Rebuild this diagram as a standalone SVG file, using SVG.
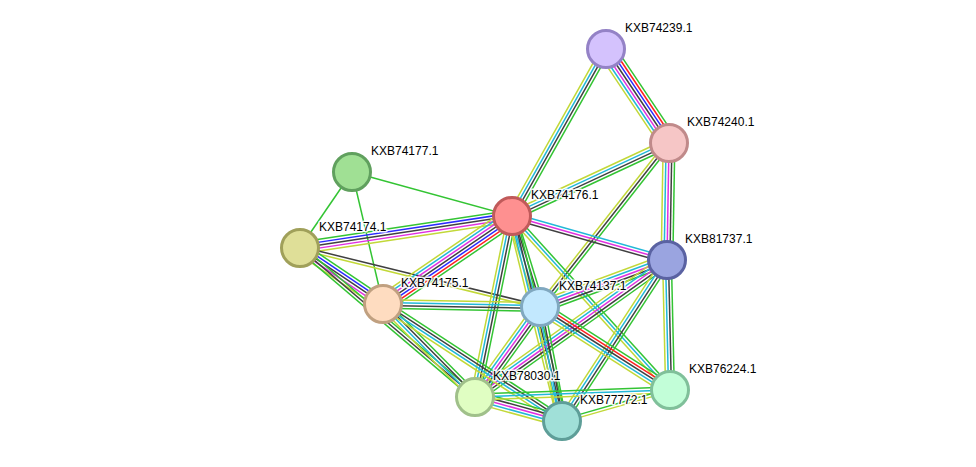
<svg xmlns="http://www.w3.org/2000/svg" width="976" height="467" viewBox="0 0 976 467">
<style>
line{stroke-width:1.5;fill:none;vector-effect:non-scaling-stroke}
.g{stroke:#33c433}.r{stroke:#ff2020}.b{stroke:#2a2aff}.k{stroke:#404040}.m{stroke:#e030e0}.c{stroke:#22b8d8}.y{stroke:#c2d838}
.n circle{stroke-width:3}
text{font-family:"Liberation Sans",Arial,sans-serif;font-size:12px;fill:#000;stroke:#fff;stroke-width:3;stroke-opacity:0.9;paint-order:stroke;stroke-linejoin:round}
</style>
<rect width="976" height="467" fill="#fff"/>
<g id="edges">
<g transform="translate(606 49) rotate(56.17) scale(1 1.12)"><line x2="113.2" y1="-7.8" y2="-7.8" class="g"/><line x2="113.2" y1="-5.2" y2="-5.2" class="r"/><line x2="113.2" y1="-2.6" y2="-2.6" class="b"/><line x2="113.2" class="k"/><line x2="113.2" y1="2.6" y2="2.6" class="m"/><line x2="113.2" y1="5.2" y2="5.2" class="c"/><line x2="113.2" y1="7.8" y2="7.8" class="y"/></g>
<g transform="translate(606 49) rotate(119.37) scale(1 1.12)"><line x2="191.6" y1="-3.9" y2="-3.9" class="g"/><line x2="191.6" y1="-1.3" y2="-1.3" class="k"/><line x2="191.6" y1="1.3" y2="1.3" class="c"/><line x2="191.6" y1="3.9" y2="3.9" class="y"/></g>
<g transform="translate(669 143) rotate(155.06) scale(1 1.12)"><line x2="173.1" y1="-3.9" y2="-3.9" class="g"/><line x2="173.1" y1="-1.3" y2="-1.3" class="k"/><line x2="173.1" y1="1.3" y2="1.3" class="c"/><line x2="173.1" y1="3.9" y2="3.9" class="y"/></g>
<g transform="translate(669 143) rotate(90.98) scale(1 1.12)"><line x2="117" y1="-5.2" y2="-5.2" class="g"/><line x2="117" y1="-2.6" y2="-2.6" class="k"/><line x2="117" class="m"/><line x2="117" y1="2.6" y2="2.6" class="c"/><line x2="117" y1="5.2" y2="5.2" class="y"/></g>
<g transform="translate(669 143) rotate(128.19) scale(1 1.12)"><line x2="208.7" y1="-2.6" y2="-2.6" class="g"/><line x2="208.7" class="k"/><line x2="208.7" y1="2.6" y2="2.6" class="y"/></g>
<g transform="translate(352 172) rotate(15.38)"><line x2="165.9" class="g"/></g>
<g transform="translate(352 172) rotate(124.38)"><line x2="92.1" class="g"/></g>
<g transform="translate(352 172) rotate(76.78)"><line x2="135.6" class="g"/></g>
<g transform="translate(300 248) rotate(-8.58) scale(1 1.12)"><line x2="214.4" y1="-5.2" y2="-5.2" class="g"/><line x2="214.4" y1="-2.6" y2="-2.6" class="b"/><line x2="214.4" class="k"/><line x2="214.4" y1="2.6" y2="2.6" class="m"/><line x2="214.4" y1="5.2" y2="5.2" class="y"/></g>
<g transform="translate(300 248) rotate(13.81) scale(1 1.12)"><line x2="247.1" y1="-1.3" y2="-1.3" class="k"/><line x2="247.1" y1="1.3" y2="1.3" class="y"/></g>
<g transform="translate(300 248) rotate(34) scale(1 1.12)"><line x2="100.1" y1="-5.2" y2="-5.2" class="g"/><line x2="100.1" y1="-2.6" y2="-2.6" class="b"/><line x2="100.1" class="k"/><line x2="100.1" y1="2.6" y2="2.6" class="m"/><line x2="100.1" y1="5.2" y2="5.2" class="y"/></g>
<g transform="translate(300 248) rotate(40.41) scale(1 1.12)"><line x2="229.8" y1="-2.6" y2="-2.6" class="g"/><line x2="229.8" class="k"/><line x2="229.8" y1="2.6" y2="2.6" class="g"/></g>
<g transform="translate(512 216) rotate(145.7) scale(1 1.12)"><line x2="156.2" y1="-7.8" y2="-7.8" class="g"/><line x2="156.2" y1="-5.2" y2="-5.2" class="r"/><line x2="156.2" y1="-2.6" y2="-2.6" class="b"/><line x2="156.2" class="k"/><line x2="156.2" y1="2.6" y2="2.6" class="m"/><line x2="156.2" y1="5.2" y2="5.2" class="c"/><line x2="156.2" y1="7.8" y2="7.8" class="y"/></g>
<g transform="translate(512 216) rotate(15.85) scale(1 1.12)"><line x2="161.1" y1="2.6" y2="2.6" class="k"/><line x2="161.1" class="m"/><line x2="161.1" y1="-2.6" y2="-2.6" class="c"/></g>
<g transform="translate(512 216) rotate(72.9) scale(1 1.12)"><line x2="95.2" y1="-3.9" y2="-3.9" class="g"/><line x2="95.2" y1="-1.3" y2="-1.3" class="k"/><line x2="95.2" y1="1.3" y2="1.3" class="c"/><line x2="95.2" y1="3.9" y2="3.9" class="y"/></g>
<g transform="translate(512 216) rotate(101.55) scale(1 1.12)"><line x2="184.7" y1="-3.9" y2="-3.9" class="g"/><line x2="184.7" y1="-1.3" y2="-1.3" class="k"/><line x2="184.7" y1="1.3" y2="1.3" class="c"/><line x2="184.7" y1="3.9" y2="3.9" class="y"/></g>
<g transform="translate(512 216) rotate(76.29) scale(1 1.12)"><line x2="211" y1="-3.9" y2="-3.9" class="g"/><line x2="211" y1="-1.3" y2="-1.3" class="k"/><line x2="211" y1="1.3" y2="1.3" class="c"/><line x2="211" y1="3.9" y2="3.9" class="y"/></g>
<g transform="translate(512 216) rotate(47.76) scale(1 1.12)"><line x2="235" y1="-2.6" y2="-2.6" class="g"/><line x2="235" class="c"/><line x2="235" y1="2.6" y2="2.6" class="y"/></g>
<g transform="translate(667 260) rotate(159.7) scale(1 1.12)"><line x2="135.4" y1="-5.2" y2="-5.2" class="g"/><line x2="135.4" y1="-2.6" y2="-2.6" class="k"/><line x2="135.4" class="m"/><line x2="135.4" y1="2.6" y2="2.6" class="c"/><line x2="135.4" y1="5.2" y2="5.2" class="y"/></g>
<g transform="translate(667 260) rotate(144.49) scale(1 1.12)"><line x2="235.9" y1="-5.2" y2="-5.2" class="g"/><line x2="235.9" y1="-2.6" y2="-2.6" class="k"/><line x2="235.9" class="m"/><line x2="235.9" y1="2.6" y2="2.6" class="c"/><line x2="235.9" y1="5.2" y2="5.2" class="y"/></g>
<g transform="translate(667 260) rotate(123.11) scale(1 1.12)"><line x2="192.2" y1="-3.9" y2="-3.9" class="g"/><line x2="192.2" y1="-1.3" y2="-1.3" class="k"/><line x2="192.2" y1="1.3" y2="1.3" class="c"/><line x2="192.2" y1="3.9" y2="3.9" class="y"/></g>
<g transform="translate(667 260) rotate(88.68) scale(1 1.12)"><line x2="130" y1="-3.9" y2="-3.9" class="g"/><line x2="130" y1="-1.3" y2="-1.3" class="k"/><line x2="130" y1="1.3" y2="1.3" class="c"/><line x2="130" y1="3.9" y2="3.9" class="y"/></g>
<g transform="translate(383 304) rotate(1.09) scale(1 1.12)"><line x2="157" y1="3.9" y2="3.9" class="g"/><line x2="157" y1="1.3" y2="1.3" class="k"/><line x2="157" y1="-1.3" y2="-1.3" class="c"/><line x2="157" y1="-3.9" y2="-3.9" class="y"/></g>
<g transform="translate(540 307) rotate(125.84) scale(1 1.12)"><line x2="111" y1="-5.2" y2="-5.2" class="g"/><line x2="111" y1="-2.6" y2="-2.6" class="k"/><line x2="111" class="m"/><line x2="111" y1="2.6" y2="2.6" class="c"/><line x2="111" y1="5.2" y2="5.2" class="y"/></g>
<g transform="translate(540 307) rotate(79.08) scale(1 1.12)"><line x2="116.1" y1="-3.9" y2="-3.9" class="g"/><line x2="116.1" y1="-1.3" y2="-1.3" class="k"/><line x2="116.1" y1="1.3" y2="1.3" class="c"/><line x2="116.1" y1="3.9" y2="3.9" class="y"/></g>
<g transform="translate(540 307) rotate(32.56) scale(1 1.12)"><line x2="154.2" y1="-5.2" y2="-5.2" class="g"/><line x2="154.2" y1="-2.6" y2="-2.6" class="r"/><line x2="154.2" class="k"/><line x2="154.2" y1="2.6" y2="2.6" class="c"/><line x2="154.2" y1="5.2" y2="5.2" class="y"/></g>
<g transform="translate(383 304) rotate(45.31) scale(1 1.12)"><line x2="130.8" y1="-3.9" y2="-3.9" class="g"/><line x2="130.8" y1="-1.3" y2="-1.3" class="k"/><line x2="130.8" y1="1.3" y2="1.3" class="c"/><line x2="130.8" y1="3.9" y2="3.9" class="y"/></g>
<g transform="translate(383 304) rotate(33.17) scale(1 1.12)"><line x2="213.8" y1="-3.9" y2="-3.9" class="g"/><line x2="213.8" y1="-1.3" y2="-1.3" class="k"/><line x2="213.8" y1="1.3" y2="1.3" class="c"/><line x2="213.8" y1="3.9" y2="3.9" class="y"/></g>
<g transform="translate(475 397) rotate(15.42) scale(1 1.12)"><line x2="90.2" y1="-5.2" y2="-5.2" class="g"/><line x2="90.2" y1="-2.6" y2="-2.6" class="k"/><line x2="90.2" class="m"/><line x2="90.2" y1="2.6" y2="2.6" class="c"/><line x2="90.2" y1="5.2" y2="5.2" class="y"/></g>
<g transform="translate(475 397) rotate(-2.06) scale(1 1.12)"><line x2="195.1" y1="-2.6" y2="-2.6" class="g"/><line x2="195.1" class="c"/><line x2="195.1" y1="2.6" y2="2.6" class="y"/></g>
<g transform="translate(562 421) rotate(-16.02) scale(1 1.12)"><line x2="112.4" y1="-1.3" y2="-1.3" class="g"/><line x2="112.4" y1="1.3" y2="1.3" class="y"/></g>
</g>
<g id="n74239" class="n"><circle cx="606" cy="49" r="18.5" fill="#d4c2fd" stroke="#9482c6"/><text x="625" y="32">KXB74239.1</text></g>
<g id="n74240" class="n"><circle cx="669" cy="143" r="18.5" fill="#f6c6c6" stroke="#c08a8a"/><text x="687" y="126">KXB74240.1</text></g>
<g id="n74177" class="n"><circle cx="352" cy="172" r="18.5" fill="#a0e094" stroke="#60a05e"/><text x="371" y="155">KXB74177.1</text></g>
<g id="n74176" class="n"><circle cx="512" cy="216" r="18.5" fill="#fe9090" stroke="#c05a5a"/><text x="531" y="199">KXB74176.1</text></g>
<g id="n74174" class="n"><circle cx="300" cy="248" r="18.5" fill="#dfdf98" stroke="#a0a05a"/><text x="319" y="231">KXB74174.1</text></g>
<g id="n81737" class="n"><circle cx="667" cy="260" r="18.5" fill="#9aa4e0" stroke="#5a62a2"/><text x="685" y="243">KXB81737.1</text></g>
<g id="n74175" class="n"><circle cx="383" cy="304" r="18.5" fill="#fedcc0" stroke="#c0a080"/><text x="401" y="287">KXB74175.1</text></g>
<g id="n74137" class="n"><circle cx="540" cy="307" r="18.5" fill="#c2e8fe" stroke="#80a8c0"/><text x="559" y="290">KXB74137.1</text></g>
<g id="n78030" class="n"><circle cx="475" cy="397" r="18.5" fill="#e0fec2" stroke="#a0c08a"/><text x="493" y="380">KXB78030.1</text></g>
<g id="n77772" class="n"><circle cx="562" cy="421" r="18.5" fill="#a0e0d8" stroke="#5e9e98"/><text x="580" y="404">KXB77772.1</text></g>
<g id="n76224" class="n"><circle cx="670" cy="390" r="18.5" fill="#c2fed8" stroke="#80c09a"/><text x="689" y="373">KXB76224.1</text></g>
</svg>
